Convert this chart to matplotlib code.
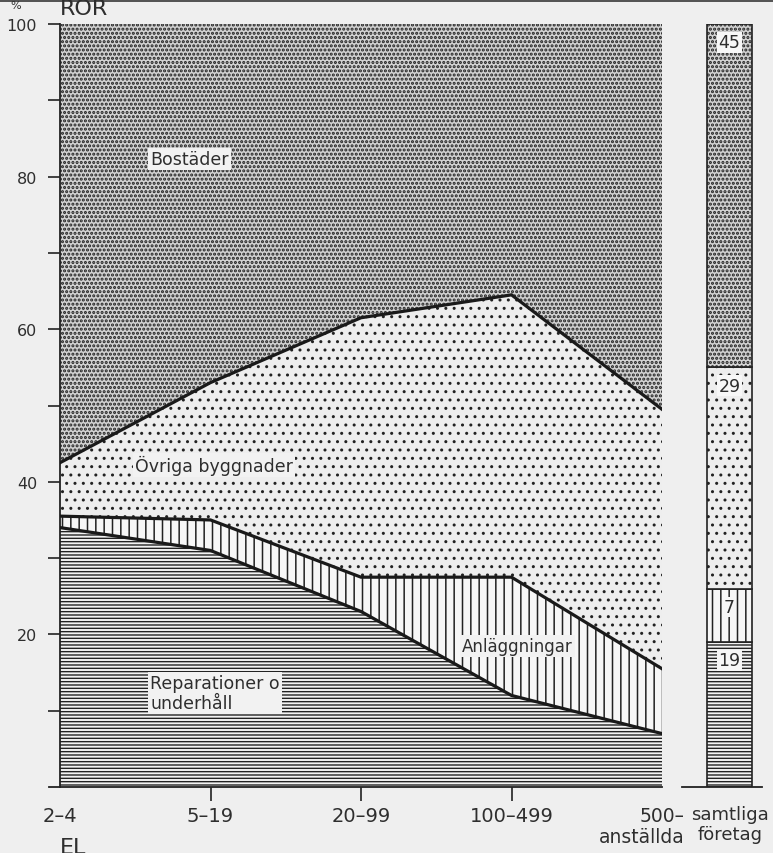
import matplotlib
matplotlib.use('Agg')
import matplotlib.pyplot as plt
import numpy as np
from matplotlib.patches import Rectangle

plt.rcParams['font.family'] = ['DejaVu Sans']
plt.rcParams['hatch.color'] = '#222222'
plt.rcParams['hatch.linewidth'] = 1.0

# ---- data ----
categories = ['2–4', '5–19', '20–99', '100–499', '500–\nanställda']
reparationer = [34, 31, 23, 12, 7]
anlaggningar = [1.5, 4, 4.5, 15.5, 8.5]
ovriga = [7, 18, 34, 37, 34]
bostader = [57.5, 47, 38.5, 35.5, 50.5]

series_labels = ['Reparationer o\nunderhåll', 'Anläggningar', 'Övriga byggnader', 'Bostäder']
total_label = 'samtliga\nföretag'
total_values = [19, 7, 29, 45]

y_ticks = [10, 20, 30, 40, 50, 60, 70, 80, 90, 100]
y_tick_labels = ['', '20', '', '40', '', '60', '', '80', '', '100']

W, H = 773, 854
BG = '#efefef'
TXT = '#2e2e2e'

fig = plt.figure(figsize=(W / 100, H / 100), dpi=100)
fig.patch.set_facecolor(BG)

ax = fig.add_axes([60 / W, 1 - 788 / H, 602 / W, 763 / H])
ax.set_facecolor('none')
ax.set_xlim(0, len(categories) - 1)
ax.set_ylim(0, 100)

x = np.arange(len(categories))
c1 = np.array(reparationer, float)
c2 = c1 + np.array(anlaggningar)
c3 = c2 + np.array(ovriga)
c4 = c3 + np.array(bostader)

styles = [
    dict(facecolor='#f3f3f3', hatch='-----'),
    dict(facecolor='#f7f7f7', hatch='||'),
    dict(facecolor='#eeeeee', hatch='..'),
    dict(facecolor='#d2d2d2', hatch='....'),
]
hatch_lw = [1.0, 1.1, 1.0, 1.5]
bounds = [np.zeros(len(x)), c1, c2, c3, c4]
for i, st in enumerate(styles):
    with plt.rc_context({'hatch.linewidth': hatch_lw[i]}):
        coll = ax.fill_between(x, bounds[i], bounds[i + 1], edgecolor='#222222',
                               linewidth=0, **st)
    if hasattr(coll, 'set_hatch_linewidth'):
        coll.set_hatch_linewidth(hatch_lw[i])
for b in (c1, c2, c3):
    ax.plot(x, b, color='#1a1a1a', lw=2.3, solid_joinstyle='miter', zorder=3)

for s in ('top', 'right'):
    ax.spines[s].set_visible(False)
for s in ('left', 'bottom'):
    ax.spines[s].set_linewidth(1.3)
    ax.spines[s].set_color('#222222')
ax.spines['bottom'].set_bounds(-0.07, 4)

ax.set_yticks(y_ticks)
ax.set_yticklabels(y_tick_labels)
ax.tick_params(axis='y', direction='out', length=8.5, width=1.2, pad=8,
               labelsize=11.5, colors='#222222', labelcolor=TXT)
ax.set_xticks(x)
ax.set_xticklabels(categories[:-1] + [''])
ax.tick_params(axis='x', direction='out', length=10, width=1.2, pad=4,
               labelsize=14, colors='#222222', labelcolor=TXT)
xt = ax.xaxis.get_major_ticks()
xt[0].tick1line.set_visible(False)
xt[-1].tick1line.set_visible(False)

ax.annotate(categories[-1], xy=(4, 0), xycoords=('data', 'axes fraction'),
            xytext=(16, -14), textcoords='offset points', ha='right',
            va='top', multialignment='right', fontsize=13.5, color=TXT,
            linespacing=1.1, annotation_clip=False)

box = dict(facecolor='#f2f2f2', edgecolor='none', pad=1.5)
ax.text(0.6, 82.3, series_labels[3], fontsize=12.5, color=TXT, va='center', bbox=box)
ax.text(0.5, 42.2, series_labels[2], fontsize=12.5, color=TXT, va='center', bbox=box)
ax.text(2.67, 18.5, series_labels[1], fontsize=12, color=TXT, va='center', bbox=box)
ax.text(0.6, 12.3, series_labels[0], fontsize=12.5, color=TXT, va='center',
        linespacing=1.1, bbox=box)

# ---- total bar ----
bax = fig.add_axes([682 / W, 1 - 788 / H, 80 / W, 763 / H])
bax.set_facecolor('none')
bax.set_xlim(0, 1)
bax.set_ylim(0, 100)
bottom = 0
for i, (v, st) in enumerate(zip(total_values, styles)):
    with plt.rc_context({'hatch.linewidth': hatch_lw[i]}):
        bars = bax.bar(0.594, v, bottom=bottom, width=0.5625, edgecolor='#222222',
                       linewidth=1.2, **st)
    for p in bars:
        if hasattr(p, 'set_hatch_linewidth'):
            p.set_hatch_linewidth(hatch_lw[i])
    bax.text(0.594, bottom + v - 2.4, str(v), ha='center', va='center',
             fontsize=12.5, color=TXT,
             bbox=dict(facecolor='#f7f7f7', edgecolor='none', pad=1))
    bottom += v
for s in ('top', 'right', 'left'):
    bax.spines[s].set_visible(False)
bax.spines['bottom'].set_linewidth(1.3)
bax.spines['bottom'].set_color('#222222')
bax.set_xticks([])
bax.set_yticks([])
bax.text(0.6, -0.024, total_label, transform=bax.transAxes, ha='center',
         va='top', fontsize=13, color=TXT, linespacing=1.1)

# ---- extra header/footer text ----
fig.text(10 / W, 1 - 6 / H, '%', fontsize=8, color=TXT, va='center')
fig.text(60 / W, 1 - 9 / H, 'ROR', fontsize=16, color=TXT, va='center')
fig.text(60 / W, 1 - 838 / H, 'EL', fontsize=16, color=TXT, va='top')
fig.add_artist(Rectangle((0, 1 - 3 / H), 1, 3 / H, transform=fig.transFigure,
                         facecolor='#555555', edgecolor='none'))

fig.savefig('out.png', dpi=100, facecolor=BG)
